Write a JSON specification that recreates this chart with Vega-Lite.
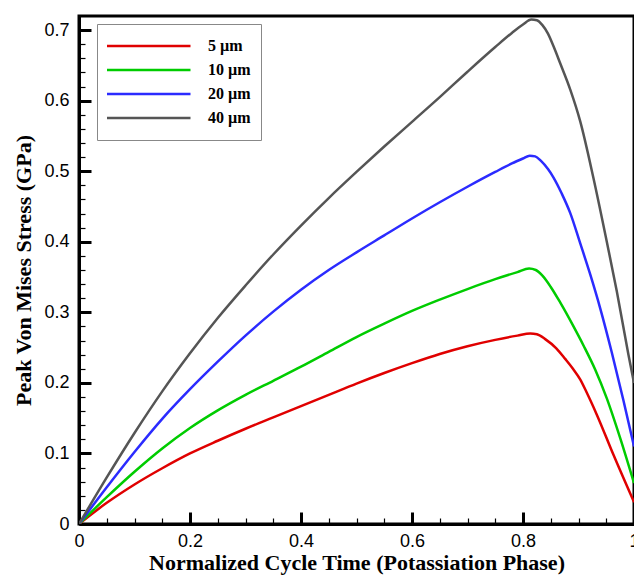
{
  "$schema": "https://vega.github.io/schema/vega-lite/v6.json",
  "autosize": {"type": "none"},
  "width": 555,
  "height": 508,
  "padding": {"left": 79, "top": 16, "right": 0, "bottom": 53},
  "background": "white",
  "config": {
    "view": {"stroke": "black", "strokeWidth": 3},
    "axis": {"grid": false}
  },
  "datasets": {
    "curves": [
      {"t": 0, "s": 0, "size": "5 µm"},
      {"t": 0.05, "s": 0.03, "size": "5 µm"},
      {"t": 0.1, "s": 0.056, "size": "5 µm"},
      {"t": 0.15, "s": 0.079, "size": "5 µm"},
      {"t": 0.2, "s": 0.1, "size": "5 µm"},
      {"t": 0.25, "s": 0.118, "size": "5 µm"},
      {"t": 0.3, "s": 0.135, "size": "5 µm"},
      {"t": 0.35, "s": 0.151, "size": "5 µm"},
      {"t": 0.4, "s": 0.167, "size": "5 µm"},
      {"t": 0.45, "s": 0.183, "size": "5 µm"},
      {"t": 0.5, "s": 0.199, "size": "5 µm"},
      {"t": 0.55, "s": 0.214, "size": "5 µm"},
      {"t": 0.6, "s": 0.228, "size": "5 µm"},
      {"t": 0.65, "s": 0.241, "size": "5 µm"},
      {"t": 0.7, "s": 0.252, "size": "5 µm"},
      {"t": 0.75, "s": 0.261, "size": "5 µm"},
      {"t": 0.79, "s": 0.267, "size": "5 µm"},
      {"t": 0.813, "s": 0.27, "size": "5 µm"},
      {"t": 0.825, "s": 0.269, "size": "5 µm"},
      {"t": 0.84, "s": 0.262, "size": "5 µm"},
      {"t": 0.86, "s": 0.249, "size": "5 µm"},
      {"t": 0.876, "s": 0.234, "size": "5 µm"},
      {"t": 0.89, "s": 0.22, "size": "5 µm"},
      {"t": 0.903, "s": 0.205, "size": "5 µm"},
      {"t": 0.915, "s": 0.186, "size": "5 µm"},
      {"t": 0.933, "s": 0.155, "size": "5 µm"},
      {"t": 0.963, "s": 0.098, "size": "5 µm"},
      {"t": 1.0, "s": 0.031, "size": "5 µm"},

      {"t": 0, "s": 0, "size": "10 µm"},
      {"t": 0.05, "s": 0.038, "size": "10 µm"},
      {"t": 0.1, "s": 0.074, "size": "10 µm"},
      {"t": 0.15, "s": 0.107, "size": "10 µm"},
      {"t": 0.2, "s": 0.136, "size": "10 µm"},
      {"t": 0.25, "s": 0.161, "size": "10 µm"},
      {"t": 0.3, "s": 0.183, "size": "10 µm"},
      {"t": 0.35, "s": 0.203, "size": "10 µm"},
      {"t": 0.4, "s": 0.223, "size": "10 µm"},
      {"t": 0.45, "s": 0.244, "size": "10 µm"},
      {"t": 0.5, "s": 0.265, "size": "10 µm"},
      {"t": 0.55, "s": 0.284, "size": "10 µm"},
      {"t": 0.6, "s": 0.302, "size": "10 µm"},
      {"t": 0.65, "s": 0.318, "size": "10 µm"},
      {"t": 0.7, "s": 0.333, "size": "10 µm"},
      {"t": 0.75, "s": 0.347, "size": "10 µm"},
      {"t": 0.79, "s": 0.357, "size": "10 µm"},
      {"t": 0.811, "s": 0.362, "size": "10 µm"},
      {"t": 0.823, "s": 0.36, "size": "10 µm"},
      {"t": 0.835, "s": 0.352, "size": "10 µm"},
      {"t": 0.85, "s": 0.336, "size": "10 µm"},
      {"t": 0.867, "s": 0.314, "size": "10 µm"},
      {"t": 0.891, "s": 0.28, "size": "10 µm"},
      {"t": 0.909, "s": 0.253, "size": "10 µm"},
      {"t": 0.93, "s": 0.219, "size": "10 µm"},
      {"t": 0.951, "s": 0.178, "size": "10 µm"},
      {"t": 0.975, "s": 0.122, "size": "10 µm"},
      {"t": 1.0, "s": 0.058, "size": "10 µm"},

      {"t": 0, "s": 0, "size": "20 µm"},
      {"t": 0.05, "s": 0.052, "size": "20 µm"},
      {"t": 0.1, "s": 0.102, "size": "20 µm"},
      {"t": 0.15, "s": 0.149, "size": "20 µm"},
      {"t": 0.2, "s": 0.191, "size": "20 µm"},
      {"t": 0.25, "s": 0.23, "size": "20 µm"},
      {"t": 0.3, "s": 0.267, "size": "20 µm"},
      {"t": 0.35, "s": 0.301, "size": "20 µm"},
      {"t": 0.4, "s": 0.332, "size": "20 µm"},
      {"t": 0.45, "s": 0.36, "size": "20 µm"},
      {"t": 0.5, "s": 0.385, "size": "20 µm"},
      {"t": 0.55, "s": 0.409, "size": "20 µm"},
      {"t": 0.6, "s": 0.433, "size": "20 µm"},
      {"t": 0.65, "s": 0.456, "size": "20 µm"},
      {"t": 0.7, "s": 0.478, "size": "20 µm"},
      {"t": 0.75, "s": 0.499, "size": "20 µm"},
      {"t": 0.78, "s": 0.511, "size": "20 µm"},
      {"t": 0.8, "s": 0.518, "size": "20 µm"},
      {"t": 0.812, "s": 0.522, "size": "20 µm"},
      {"t": 0.822, "s": 0.521, "size": "20 µm"},
      {"t": 0.832, "s": 0.515, "size": "20 µm"},
      {"t": 0.845, "s": 0.503, "size": "20 µm"},
      {"t": 0.855, "s": 0.491, "size": "20 µm"},
      {"t": 0.87, "s": 0.468, "size": "20 µm"},
      {"t": 0.885, "s": 0.441, "size": "20 µm"},
      {"t": 0.903, "s": 0.398, "size": "20 µm"},
      {"t": 0.921, "s": 0.354, "size": "20 µm"},
      {"t": 0.939, "s": 0.306, "size": "20 µm"},
      {"t": 0.96, "s": 0.243, "size": "20 µm"},
      {"t": 0.981, "s": 0.175, "size": "20 µm"},
      {"t": 1.0, "s": 0.11, "size": "20 µm"},

      {"t": 0, "s": 0, "size": "40 µm"},
      {"t": 0.05, "s": 0.066, "size": "40 µm"},
      {"t": 0.1, "s": 0.129, "size": "40 µm"},
      {"t": 0.15, "s": 0.188, "size": "40 µm"},
      {"t": 0.2, "s": 0.242, "size": "40 µm"},
      {"t": 0.25, "s": 0.292, "size": "40 µm"},
      {"t": 0.3, "s": 0.338, "size": "40 µm"},
      {"t": 0.35, "s": 0.382, "size": "40 µm"},
      {"t": 0.4, "s": 0.423, "size": "40 µm"},
      {"t": 0.45, "s": 0.462, "size": "40 µm"},
      {"t": 0.5, "s": 0.499, "size": "40 µm"},
      {"t": 0.55, "s": 0.535, "size": "40 µm"},
      {"t": 0.6, "s": 0.57, "size": "40 µm"},
      {"t": 0.65, "s": 0.605, "size": "40 µm"},
      {"t": 0.7, "s": 0.641, "size": "40 µm"},
      {"t": 0.75, "s": 0.676, "size": "40 µm"},
      {"t": 0.78, "s": 0.696, "size": "40 µm"},
      {"t": 0.8, "s": 0.708, "size": "40 µm"},
      {"t": 0.815, "s": 0.715, "size": "40 µm"},
      {"t": 0.825, "s": 0.714, "size": "40 µm"},
      {"t": 0.835, "s": 0.707, "size": "40 µm"},
      {"t": 0.845, "s": 0.695, "size": "40 µm"},
      {"t": 0.855, "s": 0.677, "size": "40 µm"},
      {"t": 0.867, "s": 0.653, "size": "40 µm"},
      {"t": 0.885, "s": 0.616, "size": "40 µm"},
      {"t": 0.903, "s": 0.571, "size": "40 µm"},
      {"t": 0.927, "s": 0.49, "size": "40 µm"},
      {"t": 0.951, "s": 0.4, "size": "40 µm"},
      {"t": 0.969, "s": 0.33, "size": "40 µm"},
      {"t": 0.99, "s": 0.24, "size": "40 µm"},
      {"t": 1.0, "s": 0.2, "size": "40 µm"}
    ]
  },
  "data": {"name": "curves"},
  "mark": {"type": "line", "strokeWidth": 2.5, "interpolate": "monotone", "clip": true},
  "encoding": {
    "x": {
      "field": "t", "type": "quantitative",
      "scale": {"domain": [0, 1], "nice": false, "zero": false},
      "axis": {
        "title": "Normalized Cycle Time (Potassiation Phase)",
        "titleFont": "Liberation Serif", "titleFontWeight": "bold", "titleFontSize": 22, "titleColor": "black",
        "titlePadding": -4,
        "values": [0, 0.05, 0.1, 0.15, 0.2, 0.25, 0.3, 0.35, 0.4, 0.45, 0.5, 0.55, 0.6, 0.65, 0.7, 0.75, 0.8, 0.85, 0.9, 0.95, 1],
        "labelExpr": "abs(datum.value*5 - round(datum.value*5)) < 0.000001 ? format(datum.value, '~g') : ''",
        "labelFont": "Liberation Sans", "labelFontSize": 18, "labelColor": "black",
        "labelPadding": 20,
        "labelFlush": false, "labelOverlap": false,
        "domainColor": "black", "domainWidth": 3,
        "tickColor": "black",
        "tickSize": {"condition": {"test": "abs(datum.value*5 - round(datum.value*5)) < 0.000001", "value": -12}, "value": -6},
        "tickWidth": {"condition": {"test": "abs(datum.value*5 - round(datum.value*5)) < 0.000001", "value": 3}, "value": 1.2}
      }
    },
    "y": {
      "field": "s", "type": "quantitative",
      "scale": {"domain": [0, 0.72], "nice": false, "zero": false},
      "axis": {
        "title": "Peak Von Mises Stress (GPa)",
        "titleFont": "Liberation Serif", "titleFontWeight": "bold", "titleFontSize": 22, "titleColor": "black",
        "titlePadding": 8,
        "values": [0, 0.02, 0.04, 0.06, 0.08, 0.1, 0.12, 0.14, 0.16, 0.18, 0.2, 0.22, 0.24, 0.26, 0.28, 0.3, 0.32, 0.34, 0.36, 0.38, 0.4, 0.42, 0.44, 0.46, 0.48, 0.5, 0.52, 0.54, 0.56, 0.58, 0.6, 0.62, 0.64, 0.66, 0.68, 0.7],
        "labelExpr": "abs(datum.value*10 - round(datum.value*10)) < 0.000001 ? format(datum.value, '~g') : ''",
        "labelFont": "Liberation Sans", "labelFontSize": 18, "labelColor": "black",
        "labelPadding": 22,
        "labelFlush": false, "labelOverlap": false,
        "domainColor": "black", "domainWidth": 3,
        "tickColor": "black",
        "tickSize": {"condition": {"test": "abs(datum.value*10 - round(datum.value*10)) < 0.000001", "value": -12}, "value": -6},
        "tickWidth": {"condition": {"test": "abs(datum.value*10 - round(datum.value*10)) < 0.000001", "value": 3}, "value": 1.2}
      }
    },
    "color": {
      "field": "size", "type": "nominal",
      "scale": {"domain": ["5 µm", "10 µm", "20 µm", "40 µm"], "range": ["#e00000", "#00cc00", "#2b2bff", "#555555"]},
      "legend": {
        "title": null, "orient": "none", "legendX": 18, "legendY": 8,
        "symbolType": "stroke", "symbolSize": 8100, "symbolStrokeWidth": 2.5, "symbolOffset": -8,
        "clipHeight": 24,
        "labelFont": "Liberation Serif", "labelFontWeight": "bold", "labelFontSize": 16, "labelColor": "black",
        "labelOffset": 16, "fillColor": "white", "strokeColor": "#888888", "padding": 10, "rowPadding": 0
      }
    }
  }
}
